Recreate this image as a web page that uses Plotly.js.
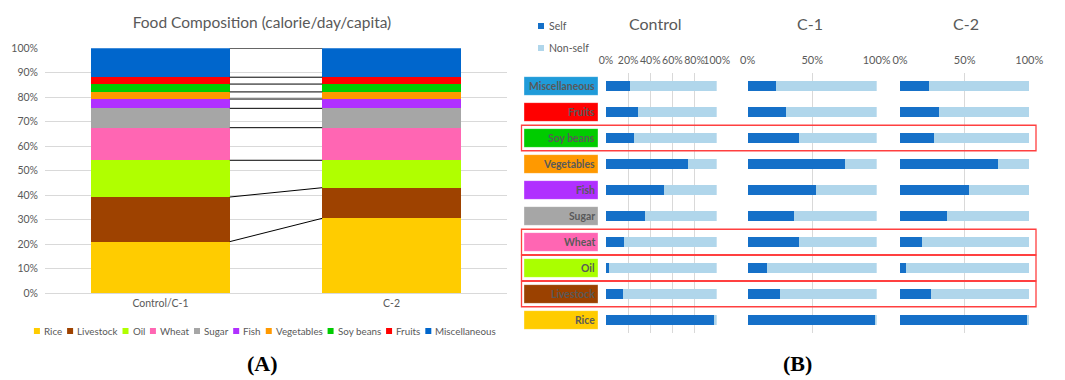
<!DOCTYPE html>
<html><head><meta charset="utf-8">
<script src="https://cdn.plot.ly/plotly-3.0.1.min.js"></script>
<style>html,body{margin:0;padding:0;background:#fff}#chart{width:1065px;height:380px}</style>
</head><body><div id="chart"></div>
<script>
// ---------- Panel A data ----------
const scenariosA = ['Control/C-1', 'C-2'];
const foods = ['Rice','Livestock','Oil','Wheat','Sugar','Fish','Vegetables','Soy beans','Fruits','Miscellaneous'];
const shareControlC1 = [21.1, 18.2, 15.0, 13.3, 7.9, 3.8, 2.9, 3.2, 2.8, 11.8];
const shareC2        = [30.6, 12.5, 11.2, 13.3, 7.9, 3.8, 2.9, 3.2, 2.8, 11.8];
const foodColors = ['#ffcc00','#9e4200','#b0ff00','#ff66b3','#a6a6a6','#b030ff','#ff9900','#00cc00','#ff0000','#0066cc'];
const yTicksA = [0,10,20,30,40,50,60,70,80,90,100];

// ---------- Panel B data ----------
const categoriesB = ['Miscellaneous','Fruits','Soy beans','Vegetables','Fish','Sugar','Wheat','Oil','Livestock','Rice'];
const boxColorsB = ['#1f9bd9','#ff0000','#00cc00','#ff9900','#b030ff','#a6a6a6','#ff66b3','#aaff00','#9b4100','#ffcc00'];
const scenariosB = ['Control','C-1','C-2'];
const seriesB = ['Self','Non-self'];
const selfControl    = [21.3, 29.1, 25.5, 74.2, 52.3, 35.4, 16.2,  2.4, 15.0, 97.6];
const nonSelfControl = [78.7, 70.9, 74.5, 25.8, 47.7, 64.6, 83.8, 97.6, 85.0,  2.4];
const selfC1         = [21.7, 30.0, 39.8, 75.2, 53.0, 35.9, 39.8, 15.0, 25.1, 98.4];
const nonSelfC1      = [78.3, 70.0, 60.2, 24.8, 47.0, 64.1, 60.2, 85.0, 74.9,  1.6];
const selfC2         = [22.2, 30.2, 26.3, 75.5, 53.1, 36.1, 17.0,  4.6, 24.0, 98.5];
const nonSelfC2      = [77.8, 69.8, 73.7, 24.5, 46.9, 63.9, 83.0, 95.4, 76.0,  1.5];
const highlighted = ['Soy beans','Wheat','Oil','Livestock'];
const tickValsControl = [0,20,40,60,80,100];
const tickValsC = [0,50,100];

// ---------- styling ----------
const W = 1065, H = 380;
const FF = 'Lato, "Open Sans", sans-serif';
const GRAY = '#595959';
const GRID = '#d9d9d9';
const SELF_C = '#1570c8', NONSELF_C = '#b0d6eb';
const px = v => v / W;
const py = v => (H - v) / H;

const traces = [];
// Panel A stacked bars
foods.forEach((f, i) => {
  traces.push({
    type: 'bar', name: f, x: [0, 1], y: [shareControlC1[i], shareC2[i]],
    xaxis: 'x', yaxis: 'y', width: 0.6, marker: {color: foodColors[i], line: {width: 0}},
    showlegend: false, hovertemplate: f + ': %{y}%<extra></extra>'
  });
});
// Panel A series lines (connect cumulative tops)
const cum = arr => { let s = 0; return arr.map(v => (s += v)); };
const cA = cum(shareControlC1), cB = cum(shareC2);
const lx = [], ly = [];
cA.forEach((v, k) => { lx.push(0.3, 0.7, null); ly.push(v, cB[k], null); });
traces.push({type: 'scatter', mode: 'lines', x: lx, y: ly, xaxis: 'x', yaxis: 'y',
  line: {color: '#000', width: 1}, showlegend: false, hoverinfo: 'skip'});

// Panel B
const selfSets = [selfControl, selfC1, selfC2];
const nonSelfSets = [nonSelfControl, nonSelfC1, nonSelfC2];
const bAxes = ['x2', 'x3', 'x4'];
scenariosB.forEach((s, j) => {
  traces.push({type: 'bar', orientation: 'h', name: seriesB[0], x: selfSets[j], y: categoriesB,
    xaxis: bAxes[j], yaxis: 'y2', width: 0.38, marker: {color: SELF_C}, showlegend: false});
  traces.push({type: 'bar', orientation: 'h', name: seriesB[1], x: nonSelfSets[j], y: categoriesB,
    xaxis: bAxes[j], yaxis: 'y2', width: 0.38, marker: {color: NONSELF_C}, showlegend: false});
});

const shapes = [], annotations = [];
// Category label boxes and text
categoriesB.forEach((c, i) => {
  shapes.push({type: 'rect', xref: 'paper', yref: 'y2', x0: px(524), x1: px(598), y0: i - 0.36, y1: i + 0.36,
    fillcolor: boxColorsB[i], line: {color: 'rgba(255,255,255,0.35)', width: 1}, layer: 'above'});
  annotations.push({xref: 'paper', yref: 'y2', x: px(596.5), y: c, xanchor: 'right', yanchor: 'middle',
    text: c, showarrow: false, font: {family: FF, size: 10.4, color: GRAY, weight: 'bold'}});
});
// red highlight outlines
highlighted.forEach(c => {
  const i = categoriesB.indexOf(c);
  shapes.push({type: 'rect', xref: 'paper', yref: 'y2', x0: px(521.5), x1: px(1036), y0: i - 0.49, y1: i + 0.49,
    fillcolor: 'rgba(0,0,0,0)', line: {color: '#ff4040', width: 1.3}, layer: 'above'});
});
// Panel B titles
const titleX = [655, 810, 966];
scenariosB.forEach((s, j) => annotations.push({xref: 'paper', yref: 'paper', x: px(titleX[j]), y: py(24),
  text: s, showarrow: false, font: {family: FF, size: 16, color: GRAY}, xanchor: 'center', yanchor: 'middle'}));
// Panel B legend (Excel-like compact)
[SELF_C, NONSELF_C].forEach((col, k) => {
  const yc = 26 + 22 * k;
  shapes.push({type: 'rect', xref: 'paper', yref: 'paper', x0: px(538), x1: px(544), y0: py(yc + 3), y1: py(yc - 3),
    fillcolor: col, line: {width: 0}});
  annotations.push({xref: 'paper', yref: 'paper', x: px(547), y: py(yc), xanchor: 'left', yanchor: 'middle',
    text: seriesB[k], showarrow: false, font: {family: FF, size: 10.5, color: GRAY}});
});
// Panel labels
annotations.push({xref: 'paper', yref: 'paper', x: px(262), y: py(363), text: '<b>(A)</b>', showarrow: false,
  font: {family: '"Liberation Serif", serif', size: 22, color: '#000'}, xanchor: 'center', yanchor: 'middle'});
annotations.push({xref: 'paper', yref: 'paper', x: px(797), y: py(363), text: '<b>(B)</b>', showarrow: false,
  font: {family: '"Liberation Serif", serif', size: 22, color: '#000'}, xanchor: 'center', yanchor: 'middle'});

// Manual horizontal legend for panel A (compact, Excel-like)
const LFS = 9.8;
const cnv = document.createElement('canvas').getContext('2d');
cnv.font = LFS + 'px Lato';
const sq = 6, gap1 = 3, gap2 = 6;
const widths = foods.map(f => cnv.measureText(f).width);
const total = widths.reduce((a, w) => a + sq + gap1 + w + gap2, 0) - gap2;
let cx = 264.5 - total / 2;
foods.forEach((f, i) => {
  shapes.push({type: 'rect', xref: 'paper', yref: 'paper', x0: px(cx), x1: px(cx + sq), y0: py(334), y1: py(328),
    fillcolor: foodColors[i], line: {width: 0}});
  annotations.push({xref: 'paper', yref: 'paper', x: px(cx + sq + gap1 - 1), y: py(331), xanchor: 'left', yanchor: 'middle',
    text: f, showarrow: false, font: {family: FF, size: LFS, color: GRAY}});
  cx += sq + gap1 + widths[i] + gap2;
});

const axB = (d0, d1, tv, fs) => ({domain: [px(d0), px(d1)], range: [0, 100], anchor: 'y2', side: 'top',
  tickvals: tv, ticktext: tv.map(v => v + '%'), tickangle: 0, showgrid: true, gridcolor: GRID, zeroline: false,
  showline: false, ticks: '', ticklabelstandoff: 6, tickfont: {family: FF, size: fs, color: GRAY}, fixedrange: true});

const layout = {
  width: W, height: H, margin: {l: 0, r: 0, t: 0, b: 0}, paper_bgcolor: '#fff', plot_bgcolor: 'rgba(0,0,0,0)',
  barmode: 'stack', bargap: 0, showlegend: false,
  title: {text: 'Food Composition (calorie/day/capita)', x: px(262), xanchor: 'center', xref: 'paper',
    y: py(23), yanchor: 'middle', font: {family: FF, size: 15.5, color: GRAY}},
  xaxis: {domain: [px(45), px(507)], range: [-0.5, 1.5], tickvals: [0, 1], ticktext: scenariosA, anchor: 'y',
    showgrid: false, zeroline: false, showline: true, linecolor: GRID, ticks: '',
    tickfont: {family: FF, size: 10.5, color: GRAY}},
  yaxis: {domain: [py(293.3), py(48.3)], range: [0, 100], tickvals: yTicksA, ticktext: yTicksA.map(v => v + '%'),
    anchor: 'x', showgrid: true, gridcolor: GRID, zeroline: false, showline: false, ticks: '',
    ticklabelstandoff: 6, tickfont: {family: FF, size: 10.5, color: GRAY}},
  xaxis2: axB(606, 716.7, tickValsControl, 10.5),
  xaxis3: axB(747.7, 876.7, tickValsC, 11),
  xaxis4: axB(900, 1029.3, tickValsC, 11),
  yaxis2: {domain: [py(333), py(73)], anchor: 'x2', type: 'category', categoryarray: categoriesB,
    categoryorder: 'array', range: [9.5, -0.5], showticklabels: false, showgrid: false, zeroline: false,
    showline: false, ticks: ''},
  shapes: shapes, annotations: annotations
};

Plotly.newPlot('chart', traces, layout, {displayModeBar: false, staticPlot: true});
</script></body></html>
